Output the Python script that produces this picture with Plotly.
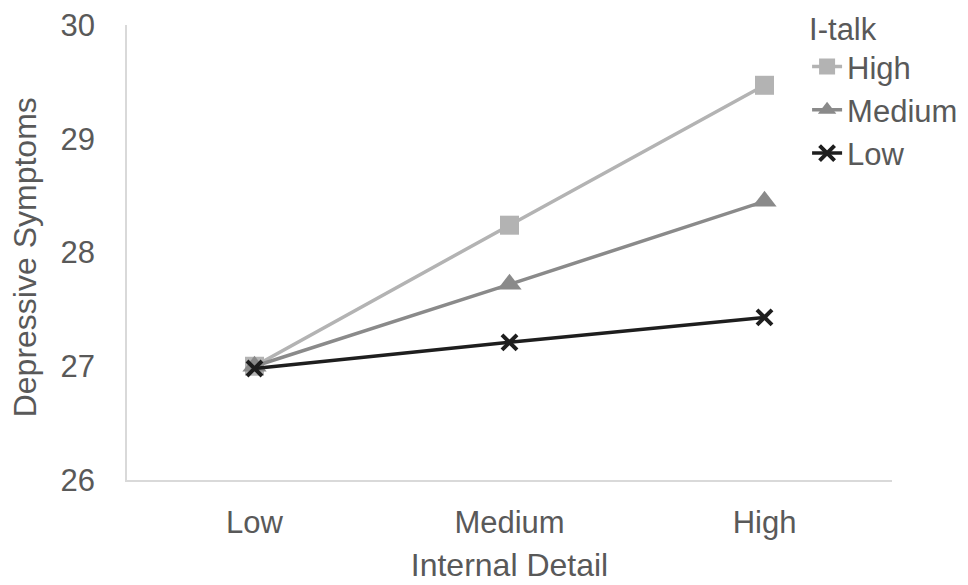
import plotly.graph_objects as go

categories = ["Low", "Medium", "High"]
high_vals = [27.00, 28.24, 29.47]
medium_vals = [27.00, 27.72, 28.45]
low_vals = [26.98, 27.21, 27.43]
y_ticks = [26, 27, 28, 29, 30]

series = [
    ("High", high_vals, "#b3b3b3", "square", 19),
    ("Medium", medium_vals, "#8a8a8a", "triangle-up", 21),
    ("Low", low_vals, "#1e1e1e", "x-thin", 15),
]

fig = go.Figure()
for name, vals, color, sym, size in series:
    fig.add_trace(go.Scatter(
        x=categories, y=vals, name=name, mode="lines+markers",
        line=dict(color=color, width=3.5),
        marker=dict(symbol=sym, size=size, color=color,
                    line=dict(color=color, width=4 if sym == "x-thin" else 0)),
    ))

font_color = "#595959"
fig.update_layout(
    width=968, height=585,
    margin=dict(l=119, r=84, t=17, b=113, autoexpand=False),
    paper_bgcolor="white", plot_bgcolor="white",
    font=dict(family="Liberation Sans, Arial, sans-serif", color=font_color, size=31),
    showlegend=True,
    legend=dict(
        title=dict(text="I-talk", font=dict(size=31, color=font_color)),
        x=0.889, xanchor="left", y=1.056, yanchor="top",
        font=dict(size=31, color=font_color),
        bgcolor="rgba(0,0,0,0)", itemwidth=30, tracegroupgap=0,
    ),
    xaxis=dict(
        title=dict(text="Internal Detail", font=dict(size=32), standoff=15),
        showgrid=False, showline=True, linecolor="#d9d9d9", linewidth=1.5,
        ticks="", tickfont=dict(size=31), range=[-0.5, 2.5],
        ticklabelstandoff=14, ticklabeloverflow="allow",
    ),
    yaxis=dict(
        showgrid=False, showline=True, linecolor="#d9d9d9", linewidth=1.5,
        ticks="", tickvals=y_ticks, range=[26, 30], tickfont=dict(size=31),
        zeroline=False, ticklabelstandoff=24, ticklabeloverflow="allow",
    ),
    annotations=[dict(
        text="Depressive Symptoms", textangle=-90, showarrow=False,
        xref="paper", yref="paper", x=-0.133, y=0.49,
        xanchor="center", yanchor="middle",
        font=dict(size=32, color=font_color),
    )],
)

fig.write_html("out.html")
